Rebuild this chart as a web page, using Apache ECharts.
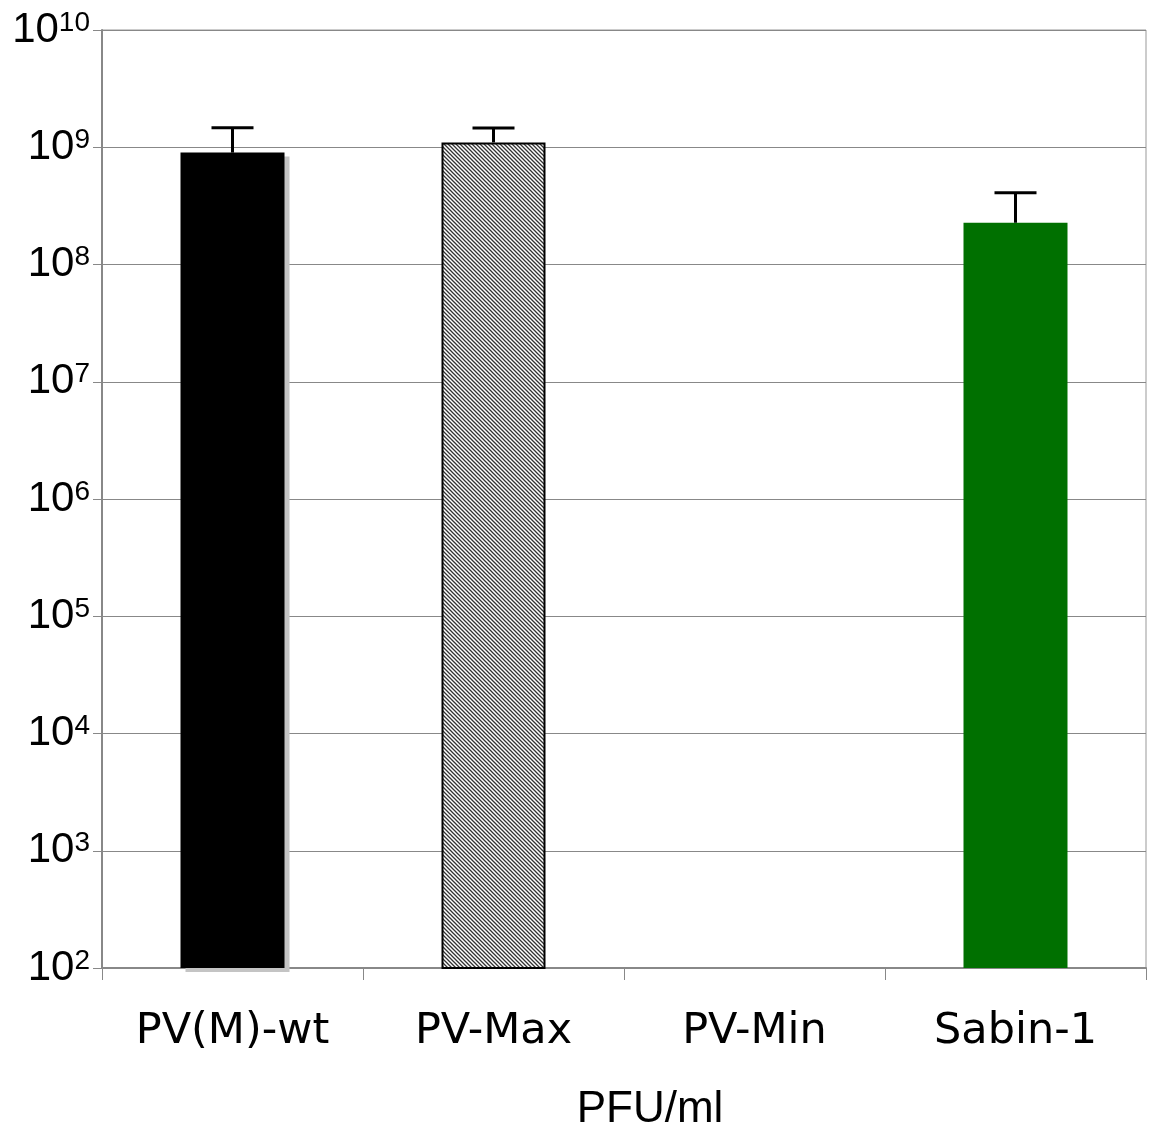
<!DOCTYPE html>
<html>
<head>
<meta charset="utf-8">
<script src="https://cdn.jsdelivr.net/npm/echarts@6/dist/echarts.min.js"></script>
<style>
  html, body { margin: 0; padding: 0; background: #fff; }
  #chart { width: 1149px; height: 1131px; }
</style>
</head>
<body>
<div id="chart"></div>
<script>
// data (PFU/ml, log scale)
const categories = ['PV(M)-wt', 'PV-Max', 'PV-Min', 'Sabin-1'];
const titers = [9.0e8, 1.1e9, null, 2.27e8];     // PV-Min: no bar drawn
const errorTops = [1.47e9, 1.46e9, null, 4.1e8];
const yTickExps = [2, 3, 4, 5, 6, 7, 8, 9, 10];

// diagonal hatch for PV-Max
function makeHatch() {
  const c = document.createElement('canvas');
  c.width = 4; c.height = 4;
  const g = c.getContext('2d');
  g.fillStyle = '#fff';
  g.fillRect(0, 0, 4, 4);
  g.strokeStyle = '#333';
  g.lineWidth = 1.3;
  g.beginPath();
  g.moveTo(-1, -1); g.lineTo(5, 5);
  g.moveTo(-1, 3); g.lineTo(1, 5);
  g.moveTo(3, -1); g.lineTo(5, 1);
  g.stroke();
  return c;
}

const barStyles = [
  { color: '#000', shadowColor: '#c4c4c4', shadowOffsetX: 5, shadowOffsetY: 4, shadowBlur: 0 },
  { color: { image: makeHatch(), repeat: 'repeat' }, borderColor: '#000', borderWidth: 2 },
  { color: '#000' },
  { color: '#007000' }
];

const barData = titers.map((v, i) => ({
  value: v == null ? '-' : v,
  itemStyle: barStyles[i]
}));

const errData = titers.map((v, i) => [i, v == null ? '-' : v, errorTops[i] == null ? '-' : errorTops[i]]);

let chart = echarts.init(document.getElementById('chart'));
let option = {
  animation: false,
  grid: {
    left: 102,
    right: 3,
    top: 30,
    bottom: 163,
    containLabel: false,
    outerBoundsMode: 'none',
    show: true,
    borderColor: '#999',
    borderWidth: 1
  },
  xAxis: {
    type: 'category',
    data: categories,
    boundaryGap: true,
    name: 'PFU/ml',
    nameLocation: 'middle',
    nameGap: 120,
    nameTextStyle: {
      fontFamily: 'Liberation Sans',
      fontSize: 44,
      color: '#000',
      padding: [0, 0, 0, 52]
    },
    axisLine: { lineStyle: { color: '#888', width: 2 } },
    axisTick: { show: true, length: 12, lineStyle: { color: '#888', width: 1 } },
    axisLabel: {
      margin: 42,
      fontFamily: 'DejaVu Sans',
      fontSize: 43,
      color: '#000'
    }
  },
  yAxis: {
    type: 'log',
    logBase: 10,
    min: Math.pow(10, yTickExps[0]),
    max: Math.pow(10, yTickExps[yTickExps.length - 1]),
    axisLine: { show: true, lineStyle: { color: '#888', width: 2 } },
    axisTick: { show: true, length: 9, lineStyle: { color: '#888', width: 1 } },
    splitLine: { show: true, lineStyle: { color: '#888', width: 1 } },
    axisLabel: {
      margin: 12,
      formatter: function (val) {
        const e = Math.round(Math.log10(val));
        return '{b|10}{s|' + e + '}';
      },
      rich: {
        b: { fontFamily: 'Liberation Sans', fontSize: 42, color: '#000', lineHeight: 42, verticalAlign: 'bottom' },
        s: { fontFamily: 'Liberation Sans', fontSize: 28, color: '#000', lineHeight: 26, verticalAlign: 'top' }
      }
    }
  },
  series: [
    {
      type: 'bar',
      data: barData,
      barWidth: 104,
      emphasis: { disabled: true },
      z: 2
    },
    {
      type: 'custom',
      data: errData,
      z: 3,
      renderItem: function (params, api) {
        const mean = api.value(1);
        const hi = api.value(2);
        if (isNaN(mean) || isNaN(hi)) return;
        const base = api.coord([api.value(0), mean]);
        const top = api.coord([api.value(0), hi]);
        const half = 21;
        const st = { stroke: '#000', lineWidth: 3 };
        return {
          type: 'group',
          children: [
            { type: 'line', shape: { x1: base[0], y1: base[1], x2: top[0], y2: top[1] }, style: st },
            { type: 'line', shape: { x1: top[0] - half, y1: top[1], x2: top[0] + half, y2: top[1] }, style: st }
          ]
        };
      }
    }
  ]
};
chart.setOption(option);
window.addEventListener('resize', () => { chart.resize() });
</script>
</body>
</html>
